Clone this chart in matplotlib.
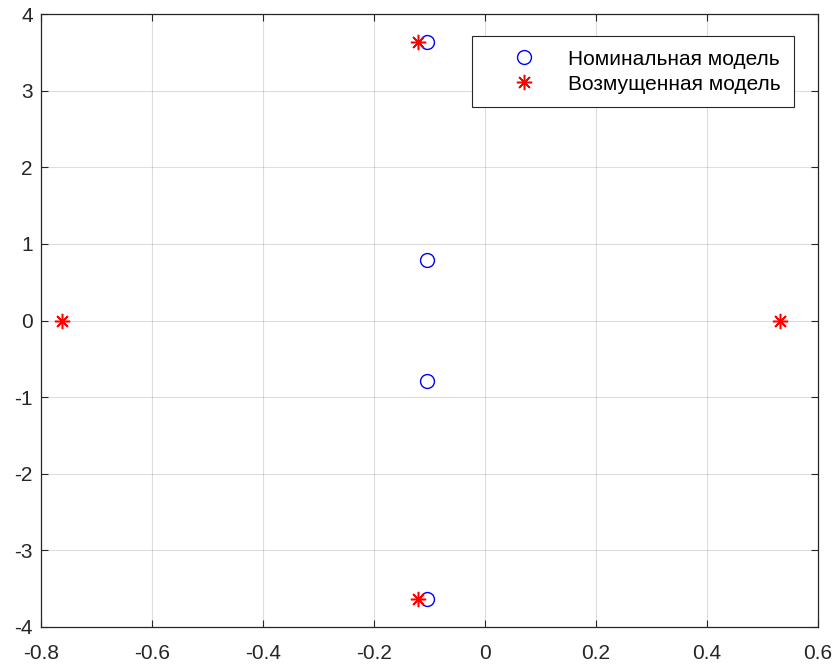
import matplotlib
matplotlib.use("Agg")
import matplotlib.pyplot as plt

plt.rcParams['font.family'] = ['Liberation Sans', 'DejaVu Sans']
plt.rcParams['axes.unicode_minus'] = False

# poles of the nominal model
nom_re = [-0.105, -0.105, -0.105, -0.105]
nom_im = [3.63, 0.79, -0.79, -3.63]

# poles of the perturbed model
pert_re = [-0.120, -0.120, -0.762, 0.532]
pert_im = [3.63, -3.63, 0.0, 0.0]

xticks = [-0.8, -0.6, -0.4, -0.2, 0, 0.2, 0.4, 0.6]
yticks = [-4, -3, -2, -1, 0, 1, 2, 3, 4]

fig = plt.figure(figsize=(8.33, 6.66), dpi=100)
ax = fig.add_axes([41 / 833, 39 / 666, 777 / 833, 613 / 666])

ax.plot(nom_re, nom_im, linestyle='none', marker='o', markersize=10,
        markerfacecolor='none', markeredgecolor='blue', markeredgewidth=1.0,
        label='Номинальная модель')
ax.plot(pert_re, pert_im, linestyle='none', marker=(8, 2, 0), markersize=11,
        markeredgecolor='red', markerfacecolor='red', markeredgewidth=1.1,
        label='Возмущенная модель')

ax.set_xlim(-0.8, 0.6)
ax.set_ylim(-4, 4)
ax.set_xticks(xticks)
ax.set_yticks(yticks)
ax.set_xticklabels(['-0.8', '-0.6', '-0.4', '-0.2', '0', '0.2', '0.4', '0.6'])
ax.set_yticklabels([str(t) for t in yticks])

ax.grid(True, color='#262626', alpha=0.15, linewidth=0.8)
ax.set_axisbelow(True)
ax.tick_params(direction='in', length=5, width=0.8, top=True, right=True,
               labelsize=15, colors='#262626', pad=6)
ax.tick_params(axis='x', pad=12)
for s in ax.spines.values():
    s.set_color('#262626')
    s.set_linewidth(0.9)

leg = ax.legend(loc='upper right', bbox_to_anchor=(0.969, 0.964),
                borderaxespad=0, fontsize=15, fancybox=False,
                framealpha=1, edgecolor='#262626', handletextpad=0.26,
                borderpad=0.65, labelspacing=0.29, handlelength=3.7)
leg.get_frame().set_linewidth(0.8)

fig.savefig('out.png', dpi=100)
